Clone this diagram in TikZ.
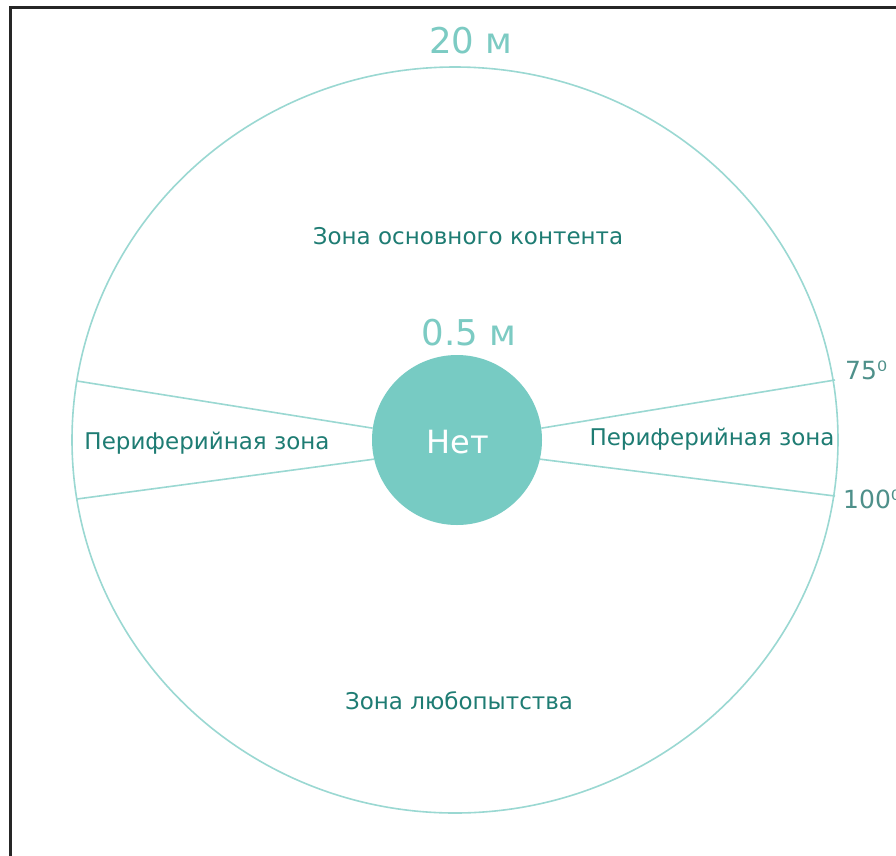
\documentclass[tikz,border=0pt]{standalone}
\usepackage{fontspec}
\setmainfont{DejaVu Sans}
\usetikzlibrary{shapes.geometric}
\definecolor{tealfill}{HTML}{77CBC3}
\definecolor{tealline}{HTML}{9AD8D2}
\definecolor{tealdark}{HTML}{1E7C73}
\definecolor{teallight}{HTML}{7CCBC3}
\definecolor{tealgray}{HTML}{4E908A}
\tikzset{
  zoneline/.style={draw=tealline, line width=1.6pt},
  zonelabel/.style={text=tealdark, font=\fontsize{23}{26}\selectfont, anchor=base, inner sep=0pt},
  sizelabel/.style={text=teallight, font=\fontsize{35.5}{40}\selectfont, anchor=base, inner sep=0pt},
  anglelabel/.style={text=tealgray, font=\fontsize{25}{28}\selectfont, anchor=base west, inner sep=0pt},
}
\begin{document}
\begin{tikzpicture}[x=1pt,y=-1pt]
\useasboundingbox (0,0) rectangle (896,855);
\clip (0,0) rectangle (896,855);
\fill[white] (0,0) rectangle (896,855);
\draw[black!85, line width=2.5pt] (10.5,856) -- (10.5,7.5) -- (897,7.5);

\node[ellipse, zoneline, minimum width=766pt, minimum height=746pt, inner sep=0pt] (zone) at (455,440) {};
\node[circle, fill=tealfill, minimum size=170pt, inner sep=0pt] (net) at (457,440) {};
\node[anchor=base, text=white, font=\fontsize{32}{38}\selectfont, inner sep=0pt] (nettext) at (458,453) {Нет};

\coordinate (lu) at (77,381);
\coordinate (ll) at (77,499);
\coordinate (ru) at (835,380);
\coordinate (rl) at (835,496);
\draw[zoneline] (lu) -- (net.172);
\draw[zoneline] (ll) -- (net.193);
\draw[zoneline] (ru) -- (net.8);
\draw[zoneline] (rl) -- (net.347);

\node[sizelabel] (big) at (471,53) {20 м};
\node[sizelabel] (small) at (469,345) {0.5 м};
\node[zonelabel] (main) at (468,244) {Зона основного контента};
\node[zonelabel] (curious) at (459,709) {Зона любопытства};
\node[zonelabel] (perl) at (207,449) {Периферийная зона};
\node[zonelabel] (perr) at (712,445) {Периферийная зона};
\node[anglelabel] (a75) at (845,379) {75⁰};
\node[anglelabel] (a100) at (843,508) {100⁰};
\end{tikzpicture}
\end{document}
